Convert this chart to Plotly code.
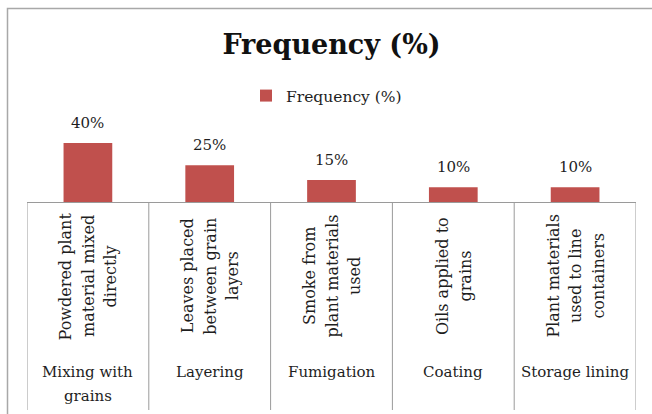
import plotly.graph_objects as go

# ---- data ----
methods = ["Mixing with grains", "Layering", "Fumigation", "Coating", "Storage lining"]
method_lines = [["Mixing with", "grains"], ["Layering"], ["Fumigation"], ["Coating"], ["Storage lining"]]
descriptions = [
    ["Powdered plant", "material mixed", "directly"],
    ["Leaves placed", "between grain", "layers"],
    ["Smoke from", "plant materials", "used"],
    ["Oils applied to", "grains"],
    ["Plant materials", "used to line", "containers"],
]
frequency = [40, 25, 15, 10, 10]
series_name = "Frequency (%)"

# ---- layout geometry (pixels) ----
W, H = 652, 414
L, R, T, B = 27, 16, 100, 212
plot_w = W - L - R
plot_h = H - T - B
axis_y = T + plot_h  # pixel y of the baseline


def py(y):
    """pixel y -> paper y"""
    return (axis_y - y) / plot_h


def px(x):
    """pixel x -> paper x"""
    return (x - L) / plot_w


FONT = "DejaVu Serif"
TXT = "#1e1e1e"
GRID = "#9a9a9a"
BAR = "#C0504D"

idx = list(range(len(methods)))

fig = go.Figure()
fig.add_trace(go.Bar(
    x=idx, y=frequency, name=series_name,
    marker=dict(color=BAR, line=dict(width=0)),
    width=0.4, showlegend=True,
))

annotations = []
# data labels
for i, v in zip(idx, frequency):
    annotations.append(dict(
        x=i, y=v, xref="x", yref="y", text=f"{v}%", showarrow=False,
        yanchor="middle", yshift=20, font=dict(family=FONT, size=15, color=TXT),
    ))
# rotated description labels
for i, lines in zip(idx, descriptions):
    n = len(lines)
    for k, line in enumerate(lines):
        annotations.append(dict(
            x=i, y=py(276), xref="x", yref="paper", text=line, showarrow=False,
            textangle=-90, xanchor="center", yanchor="middle",
            xshift=(k - (n - 1) / 2) * 22.5,
            font=dict(family=FONT, size=16, color=TXT),
        ))
# method labels
for i, lines in zip(idx, method_lines):
    for k, line in enumerate(lines):
        annotations.append(dict(
            x=i, y=py(372 + 24 * k), xref="x", yref="paper", text=line, showarrow=False,
            xanchor="center", yanchor="middle",
            font=dict(family=FONT, size=15, color=TXT),
        ))

shapes = []
# category dividers
for b in [i - 0.5 for i in idx] + [idx[-1] + 0.5]:
    shapes.append(dict(type="line", xref="x", yref="paper", x0=b, x1=b,
                       y0=0, y1=py(410), line=dict(color=GRID, width=1)))
# chart border (left & top visible)
shapes.append(dict(type="path", xref="paper", yref="paper",
                   path=f"M {px(7.5)},{py(414)} L {px(7.5)},{py(8.5)} L {px(652)},{py(8.5)}",
                   line=dict(color="#a8a8a8", width=1.5)))

fig.update_layout(
    width=W, height=H,
    margin=dict(l=L, r=R, t=T, b=B, pad=0),
    paper_bgcolor="white", plot_bgcolor="white",
    title=dict(text="<b>Frequency (%)</b>", x=0.5, xref="paper", xanchor="center",
               y=1 - 45 / H, yref="container", yanchor="middle",
               font=dict(family=FONT, size=27, color="#111111")),
    legend=dict(orientation="h", x=0.5 - 5 / plot_w, xanchor="center", y=py(96), yanchor="middle",
                font=dict(family=FONT, size=15.5, color=TXT), bgcolor="rgba(0,0,0,0)",
                itemwidth=30),
    xaxis=dict(range=[-0.5, len(idx) - 0.5], showticklabels=False, ticks="",
               showgrid=False, zeroline=False, showline=True, linecolor=GRID, linewidth=1,
               fixedrange=True),
    yaxis=dict(range=[0, plot_h * 40 / 59], visible=False, fixedrange=True),
    annotations=annotations,
    shapes=shapes,
    bargap=0.6,
)

fig.write_html("out.html")
